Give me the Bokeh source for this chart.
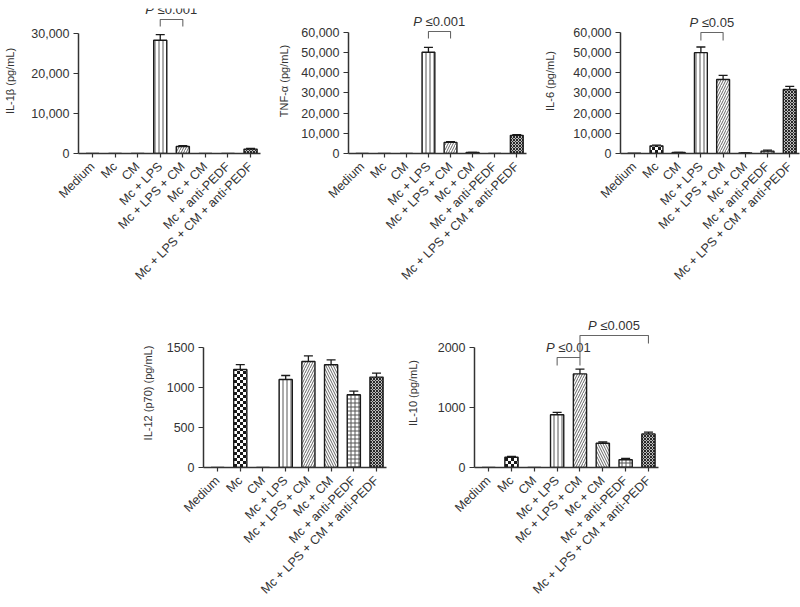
import math, zlib, struct, base64
from bokeh.plotting import figure
from bokeh.layouts import column, row
from bokeh.models import (Range1d, FixedTicker, NumeralTickFormatter, Whisker, TeeHead,
                          ColumnDataSource, ImageURLTexture)
from bokeh.core.properties import value
from bokeh.embed import file_html
from bokeh.resources import INLINE

# ---------------- data ----------------
categories = ["Medium", "Mc", "CM", "Mc + LPS", "Mc + LPS + CM", "Mc + CM",
              "Mc + anti-PEDF", "Mc + LPS + CM + anti-PEDF"]

il1b = [0, 0, 0, 28300, 1750, 0, 0, 1100]
il1b_err = [0, 0, 0, 1400, 200, 0, 0, 150]

tnfa = [0, 0, 0, 50200, 5500, 500, 0, 9000]
tnfa_err = [0, 0, 0, 2400, 400, 100, 0, 300]

il6 = [150, 3800, 500, 50000, 36700, 300, 1200, 31700]
il6_err = [0, 300, 100, 2800, 2000, 50, 500, 1600]

il12 = [0, 1225, 0, 1100, 1325, 1285, 910, 1130]
il12_err = [0, 60, 0, 50, 70, 60, 45, 50]

il10 = [0, 170, 0, 880, 1560, 405, 130, 560]
il10_err = [0, 15, 0, 40, 80, 20, 20, 30]

# significance brackets: (left index, right index, top, left leg bottom, right leg bottom, p text)
br_il1b = [(3, 4, 33500, 31750, 31750, "≤0.001")]
br_tnfa = [(3, 4, 60500, 57000, 57000, "≤0.001")]
br_il6 = [(3, 4, 60000, 56000, 56000, "≤0.05")]
br_il12 = []
br_il10 = [(3, 4, 1833, 1700, 1700, "≤0.01"),
           (4, 7, 2200, 1833, 2067, "≤0.005")]

# ---------------- styles ----------------
def _png(w, h, rows):
    raw = b"".join(b"\x00" + bytes(r) for r in rows)
    def chunk(t, d):
        return struct.pack(">I", len(d)) + t + d + struct.pack(">I", zlib.crc32(t + d) & 0xffffffff)
    return (b"\x89PNG\r\n\x1a\n" + chunk(b"IHDR", struct.pack(">IIBBBBB", w, h, 8, 2, 0, 0, 0))
            + chunk(b"IDAT", zlib.compress(raw)) + chunk(b"IEND", b""))

CELL = 3
rows_px = []
for yy in range(2 * CELL):
    r = []
    for xx in range(2 * CELL):
        c = 25 if ((xx // CELL) + (yy // CELL)) % 2 == 0 else 255
        r += [c, c, c]
    rows_px.append(r)
checker_url = "data:image/png;base64," + base64.b64encode(_png(2 * CELL, 2 * CELL, rows_px)).decode()

hatches = [" ", "checker", " ", "|", "/", "\\", "+", "x"]
hscale = [4, 8, 4, 4, 5, 5, 4, 3]
hweight = [1, 1, 1, 1, 1, 1, 1, 1.1]
hcolor = ["#333", "#111", "#333", "#555", "#666", "#666", "#555", "#222"]

FONT = "Liberation Sans"
AX = "#333333"


def ptext_width(t):
    w = 0
    for ch in t:
        w += 3.6 if ch == "." else (7.6 if ch == "≤" else 7.23)
    return w


def make_panel(vals, errs, ylabel, yticks, comma, y_end, brackets,
               fw, fh, bl, br, bt, bb, lstand):
    p = figure(frame_width=fw, frame_height=fh,
               x_range=Range1d(-0.62, 7.44), y_range=Range1d(0, y_end),
               output_backend="svg", toolbar_location=None,
               min_border_left=bl, min_border_right=br,
               min_border_top=bt, min_border_bottom=bb)
    p.outline_line_color = None
    p.xgrid.visible = False
    p.ygrid.visible = False
    p.background_fill_color = "white"

    xs = list(range(len(categories)))
    src = ColumnDataSource(dict(x=xs, top=vals, hp=hatches, hs=hscale, hw=hweight, hc=hcolor))
    p.vbar(x="x", top="top", width=0.58, source=src, fill_color="white",
           line_color="#1a1a1a", line_width=1.4,
           hatch_pattern="hp", hatch_scale="hs", hatch_weight="hw", hatch_color="hc",
           hatch_extra={"checker": ImageURLTexture(url=checker_url, repetition="repeat")})

    ex = [x for x, e in zip(xs, errs) if e > 0]
    lo = [v for v, e in zip(vals, errs) if e > 0]
    hi = [v + e for v, e in zip(vals, errs) if e > 0]
    esrc = ColumnDataSource(dict(x=ex, lo=lo, hi=hi))
    p.add_layout(Whisker(source=esrc, base="x", lower="lo", upper="hi", dimension="height",
                         line_color="#1a1a1a", line_width=1.3, lower_head=None,
                         upper_head=TeeHead(size=9, line_color="#1a1a1a", line_width=1.3)))

    for (i, j, top, yl, yr, t) in brackets:
        p.line([xs[i], xs[i], xs[j], xs[j]], [yl, top, top, yr], line_color="#666666", line_width=1.1)
        wP = 12.3
        wr = ptext_width(t)
        W = wP + wr
        mid = (xs[i] + xs[j]) / 2
        ty = top + (y_end / fh) * 2.5
        p.text(x=[mid], y=[ty], text=["P"], x_offset=-W / 2, text_align="left",
               text_baseline="bottom", text_font=value(FONT), text_font_size="13px",
               text_font_style="italic", text_color="#333333")
        p.text(x=[mid], y=[ty], text=[t], x_offset=-W / 2 + wP, text_align="left",
               text_baseline="bottom", text_font=value(FONT), text_font_size="13px",
               text_color="#333333")

    xa = p.xaxis[0]
    xa.ticker = FixedTicker(ticks=xs)
    xa.major_label_overrides = {i: c for i, c in zip(xs, categories)}
    xa.major_label_orientation = math.pi / 4
    xa.minor_tick_line_color = None
    xa.major_tick_in = 0
    xa.major_tick_out = 4
    xa.axis_line_color = AX
    xa.axis_line_width = 1.5
    xa.major_tick_line_color = AX
    xa.major_tick_line_width = 1.2
    xa.major_label_text_font = FONT
    xa.major_label_text_font_size = "12.5px"
    xa.major_label_text_color = "#333333"
    xa.major_label_standoff = 7

    ya = p.yaxis[0]
    ya.ticker = FixedTicker(ticks=yticks)
    ya.bounds = (yticks[0], yticks[-1])
    ya.formatter = NumeralTickFormatter(format="0,0" if comma else "0")
    ya.minor_tick_line_color = None
    ya.major_tick_in = 0
    ya.major_tick_out = 5
    ya.axis_line_color = AX
    ya.axis_line_width = 1.5
    ya.major_tick_line_color = AX
    ya.major_tick_line_width = 1.2
    ya.major_label_text_font = FONT
    ya.major_label_text_font_size = "12.5px"
    ya.major_label_text_color = "#333333"
    ya.major_label_standoff = 4
    ya.axis_label = ylabel
    ya.axis_label_text_font = FONT
    ya.axis_label_text_font_size = "11px"
    ya.axis_label_text_font_style = "normal"
    ya.axis_label_text_color = "#333333"
    ya.axis_label_standoff = lstand
    return p


p1 = make_panel(il1b, il1b_err, "IL-1β (pg/mL)", [0, 10000, 20000, 30000], True, 36250, br_il1b,
                182, 145, 78, 15, 8, 155, 12)
p2 = make_panel(tnfa, tnfa_err, "TNF-α (pg/mL)", [0, 10000, 20000, 30000, 40000, 50000, 60000], True,
                71900, br_tnfa, 178, 145, 70, 15, 8, 155, 8)
p3 = make_panel(il6, il6_err, "IL-6 (pg/mL)", [0, 10000, 20000, 30000, 40000, 50000, 60000], True,
                71900, br_il6, 179, 145, 70, 5, 8, 155, 14)
p4 = make_panel(il12, il12_err, "IL-12 (p70) (pg/mL)", [0, 500, 1000, 1500], False, 1862.5, br_il12,
                183, 149, 203, 17, 10, 0, 10)
p5 = make_panel(il10, il10_err, "IL-10 (pg/mL)", [0, 1000, 2000], False, 2483, br_il10,
                184, 149, 70, 10, 10, 0, 16)

layout = column(row(p1, p2, p3), row(p4, p5))
open("out.html", "w").write(file_html(layout, INLINE))
